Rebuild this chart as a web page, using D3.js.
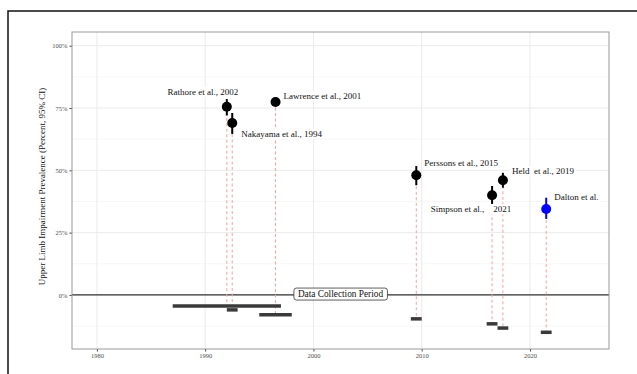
<!DOCTYPE html>
<html>
<head>
<meta charset="utf-8">
<script src="https://cdn.jsdelivr.net/npm/d3@7"></script>
<style>
  body { margin: 0; background: #fff; }
  svg { display: block; font-family: "Liberation Serif", "DejaVu Serif", serif; }
</style>
</head>
<body>
<div class="chart"></div>
<script>
// studies: label, midpoint year, prevalence and 95% CI
const studies = ["Rathore et al., 2002", "Nakayama et al., 1994", "Lawrence et al., 2001",
                 "Perssons et al., 2015", "Simpson et al.,    2021", "Held  et al., 2019", "Dalton et al."];
const midYear = [1992, 1992.5, 1996.5, 2009.5, 2016.5, 2017.5, 2021.5];
const prevalence = [75.5, 69, 77.4, 48, 40, 46, 34.5];
const ciLow = [72, 64.6, 76, 44, 36.5, 43, 30.5];
const ciHigh = [78.6, 73, 79, 51.7, 43.7, 49, 39];
// data collection period per study (start, end) and the row it is drawn on (below 0)
const periodStart = [1987, 1992, 1995, 2009, 2016, 2017, 2021];
const periodEnd = [1997, 1993, 1998, 2010, 2017, 2018, 2022];
const periodRow = [-4.4, -6, -8, -9.6, -11.6, -13.3, -15];

const xTicks = [1980, 1990, 2000, 2010, 2020];
const yTicks = [0, 25, 50, 75, 100];
const yMinor = [-12.5, 12.5, 37.5, 62.5, 87.5];

const w = 637, h = 374;
const pLeft = 72, pRight = 609, pTop = 32, pBottom = 349;

// label nudges in px (label layout only)
const nudge = [[-24, -14, "middle"], [9, 12, "start"], [8, -5, "start"],
               [8, -11, "start"], [-21, 15, "middle"], [9, -8, "start"], [8, -11, "start"]];

const svg = d3.select(".chart").append("svg")
  .attr("width", w).attr("height", h);

svg.append("rect").attr("x", 8).attr("y", 11).attr("width", 700).attr("height", 400)
  .attr("fill", "none").attr("stroke", "#111").attr("stroke-width", 1.5);

const x = d3.scaleLinear().domain([1977.7, 2027.3]).range([pLeft, pRight]);
const y = d3.scaleLinear().domain([-21.7, 105.5]).range([pBottom, pTop]);

// grid
const grid = svg.append("g");
grid.selectAll(".ymin").data(yMinor).enter().append("line")
  .attr("x1", pLeft).attr("x2", pRight).attr("y1", d => y(d)).attr("y2", d => y(d))
  .attr("stroke", "#f2f2f2").attr("stroke-width", 0.6);
grid.selectAll(".ymaj").data(yTicks).enter().append("line")
  .attr("x1", pLeft).attr("x2", pRight).attr("y1", d => y(d)).attr("y2", d => y(d))
  .attr("stroke", "#ebebeb").attr("stroke-width", 1);
grid.selectAll(".xmaj").data(xTicks).enter().append("line")
  .attr("y1", pTop).attr("y2", pBottom).attr("x1", d => x(d)).attr("x2", d => x(d))
  .attr("stroke", "#ebebeb").attr("stroke-width", 1);

// axes
const xAxis = d3.axisBottom(x).tickValues(xTicks).tickSize(2.5).tickPadding(2).tickFormat(d3.format("d"));
const yAxis = d3.axisLeft(y).tickValues(yTicks).tickSize(2.5).tickPadding(2).tickFormat(d => d + "%");

const gx = svg.append("g").attr("transform", `translate(0,${pBottom})`).call(xAxis);
const gy = svg.append("g").attr("transform", `translate(${pLeft},0)`).call(yAxis);
[gx, gy].forEach(g => {
  g.select(".domain").remove();
  g.selectAll(".tick line").attr("stroke", "#444");
  g.selectAll(".tick text").attr("fill", "#4d4d4d").style("font-size", "6.5px")
    .style("font-family", "Liberation Serif");
});

svg.append("text")
  .attr("transform", `translate(43,${(pTop + pBottom) / 2 - 4}) rotate(-90)`)
  .attr("text-anchor", "middle").attr("dominant-baseline", "middle")
  .style("font-size", "9px").attr("fill", "#111")
  .text("Upper Limb Impairment Prevalence (Percent, 95% CI)");

// zero line
svg.append("line").attr("x1", pLeft).attr("x2", pRight).attr("y1", y(0)).attr("y2", y(0))
  .attr("stroke", "#333").attr("stroke-width", 1.3);

// dashed links from estimate to collection period
svg.selectAll(".link").data(studies).enter().append("line")
  .attr("x1", (d, i) => x(midYear[i])).attr("x2", (d, i) => x(midYear[i]))
  .attr("y1", (d, i) => y(prevalence[i])).attr("y2", (d, i) => y(periodRow[i]))
  .attr("stroke", "#f7a1a1").attr("stroke-width", 1).attr("stroke-dasharray", "3,2.5");

// collection periods
svg.selectAll(".period").data(studies).enter().append("line")
  .attr("x1", (d, i) => x(periodStart[i])).attr("x2", (d, i) => x(periodEnd[i]))
  .attr("y1", (d, i) => y(periodRow[i])).attr("y2", (d, i) => y(periodRow[i]))
  .attr("stroke", "#3a3a3a").attr("stroke-width", 3.5);

// error bars + points
const color = (i) => studies[i] === "Dalton et al." ? "#0000ff" : "#000";
svg.selectAll(".ci").data(studies).enter().append("line")
  .attr("x1", (d, i) => x(midYear[i])).attr("x2", (d, i) => x(midYear[i]))
  .attr("y1", (d, i) => y(ciLow[i])).attr("y2", (d, i) => y(ciHigh[i]))
  .attr("stroke", (d, i) => color(i)).attr("stroke-width", 2);
svg.selectAll(".pt").data(studies).enter().append("circle")
  .attr("cx", (d, i) => x(midYear[i])).attr("cy", (d, i) => y(prevalence[i]))
  .attr("r", 5).attr("fill", (d, i) => color(i));

// study labels with white background
const lab = svg.selectAll(".lab").data(studies).enter().append("g");
lab.each(function (d, i) {
  const g = d3.select(this);
  const t = g.append("text")
    .attr("x", x(midYear[i]) + nudge[i][0]).attr("y", y(prevalence[i]) + nudge[i][1])
    .attr("text-anchor", nudge[i][2]).attr("dominant-baseline", "middle")
    .style("font-size", "9px").style("white-space", "pre").attr("fill", "#111").text(d);
  const b = t.node().getBBox();
  g.insert("rect", "text").attr("x", b.x - 2).attr("y", b.y).attr("width", b.width + 4)
    .attr("height", b.height).attr("fill", "#fff");
});

// Data Collection Period box
const dc = svg.append("g");
const dt = dc.append("text").attr("x", x(2002.5)).attr("y", y(0))
  .attr("text-anchor", "middle").attr("dominant-baseline", "middle")
  .style("font-size", "9.3px").attr("fill", "#111").text("Data Collection Period");
const db = dt.node().getBBox();
dc.insert("rect", "text").attr("x", db.x - 4).attr("y", db.y - 1).attr("width", db.width + 8)
  .attr("height", db.height + 2).attr("rx", 2.5).attr("fill", "#fff")
  .attr("stroke", "#333").attr("stroke-width", 0.8);

// panel border
svg.append("rect").attr("x", pLeft).attr("y", pTop).attr("width", pRight - pLeft).attr("height", pBottom - pTop)
  .attr("fill", "none").attr("stroke", "#999").attr("stroke-width", 1);
</script>
</body>
</html>
